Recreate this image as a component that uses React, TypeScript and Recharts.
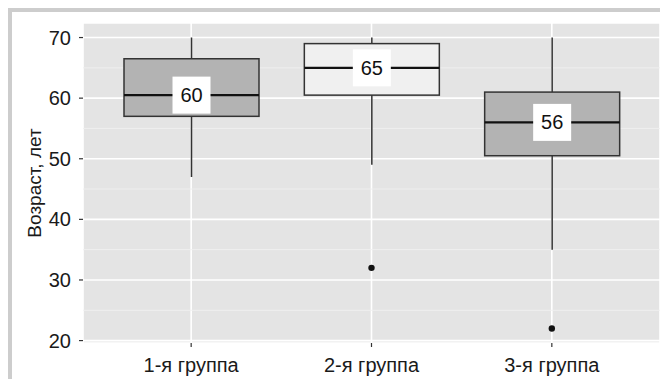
import { ComposedChart, Bar, Cell, Scatter, XAxis, YAxis, CartesianGrid } from 'recharts';

const groups = ['1-я группа', '2-я группа', '3-я группа'];
const whiskerLow = [47, 49, 35];
const q1 = [57, 60.5, 50.5];
const median = [60.5, 65, 56];
const q3 = [66.5, 69, 61];
const whiskerHigh = [70, 70, 70];
const medianLabels = ['60', '65', '56'];
const outliers: Array<number | null> = [null, 32, 22];
const boxFills = ['#b3b3b3', '#f0f0f0', '#b3b3b3'];

const yTicks = [20, 30, 40, 50, 60, 70];
const yMinor = [25, 35, 45, 55, 65];

const data = groups.map((name, i) => ({
  name,
  range: [whiskerLow[i], whiskerHigh[i]],
  low: whiskerLow[i],
  q1: q1[i],
  median: median[i],
  q3: q3[i],
  high: whiskerHigh[i],
  label: medianLabels[i],
  fill: boxFills[i],
  outlier: outliers[i],
}));

const FONT = '"Liberation Sans", Arial, sans-serif';

// box + whiskers, placed from the bar's own pixel extent (low..high)
function BoxShape(props: any) {
  const { x, y, width, height, payload } = props;
  if (x == null || y == null) return null;
  const top = Math.min(y, y + height);
  const h = Math.abs(height);
  const py = (v: number) => top + ((payload.high - v) / (payload.high - payload.low)) * h;
  const cx = x + width / 2;
  const yQ1 = py(payload.q1);
  const yQ3 = py(payload.q3);
  const yMed = py(payload.median);
  return (
    <g>
      <line x1={cx} x2={cx} y1={py(payload.high)} y2={yQ3} stroke="#333" strokeWidth={1.5} />
      <line x1={cx} x2={cx} y1={yQ1} y2={py(payload.low)} stroke="#333" strokeWidth={1.5} />
      <rect x={x} y={yQ3} width={width} height={yQ1 - yQ3} fill={payload.fill} stroke="#333" strokeWidth={1.5} />
      <line x1={x} x2={x + width} y1={yMed} y2={yMed} stroke="#111" strokeWidth={2.2} />
      <rect x={cx - 19} y={yMed - 18.5} width={38} height={37} fill="#fff" />
      <text x={cx} y={yMed + 7} textAnchor="middle" fontSize={20} fontFamily={FONT} fill="#111">
        {payload.label}
      </text>
    </g>
  );
}

function OutlierDot(props: any) {
  const { cx, cy, payload } = props;
  if (payload == null || payload.outlier == null || !isFinite(cx) || !isFinite(cy)) return null;
  return <circle cx={cx} cy={cy} r={3.2} fill="#111" />;
}

export default function App() {
  return (
    <div style={{ position: 'relative', width: 668, height: 387, margin: -8, background: '#fff', overflow: 'hidden' }}>
      <div
        style={{
          position: 'absolute',
          left: 7,
          top: 7,
          width: 700,
          height: 420,
          borderTop: '5px solid #cdcdcd',
          borderLeft: '5px solid #cdcdcd',
        }}
      />
      <div style={{ position: 'absolute', left: 0, top: 0 }}>
        <ComposedChart width={668} height={387} data={data} margin={{ top: 23, right: 8, bottom: 4, left: 23 }}>
          <CartesianGrid fill="#e4e4e4" stroke="#ffffff" strokeWidth={1.6} />
          <CartesianGrid horizontalValues={yMinor} vertical={false} stroke="#f1f1f1" strokeWidth={0.9} />
          <XAxis
            dataKey="name"
            type="category"
            padding={{ left: 18, right: 18 }}
            height={40}
            axisLine={false}
            tickSize={4}
            tickMargin={11}
            tickLine={{ stroke: '#333', strokeWidth: 1.2 }}
            tick={{ fill: '#1a1a1a', fontSize: 20, fontFamily: FONT }}
          />
          <YAxis
            type="number"
            domain={[19.6, 72.4]}
            ticks={yTicks}
            allowDataOverflow
            width={60}
            axisLine={false}
            tickSize={4}
            tickMargin={8}
            tickLine={{ stroke: '#333', strokeWidth: 1.2 }}
            tick={{ fill: '#1a1a1a', fontSize: 20, fontFamily: FONT }}
            label={{
              value: 'Возраст, лет',
              angle: -90,
              position: 'insideLeft',
              offset: 11,
              style: { textAnchor: 'middle', fill: '#1a1a1a', fontSize: 19, fontFamily: FONT },
            }}
          />
          <Bar dataKey="range" barSize={135} shape={BoxShape} isAnimationActive={false}>
            {data.map((d, i) => (
              <Cell key={i} fill={d.fill} />
            ))}
          </Bar>
          <Scatter dataKey="outlier" shape={OutlierDot} isAnimationActive={false} />
        </ComposedChart>
      </div>
    </div>
  );
}
